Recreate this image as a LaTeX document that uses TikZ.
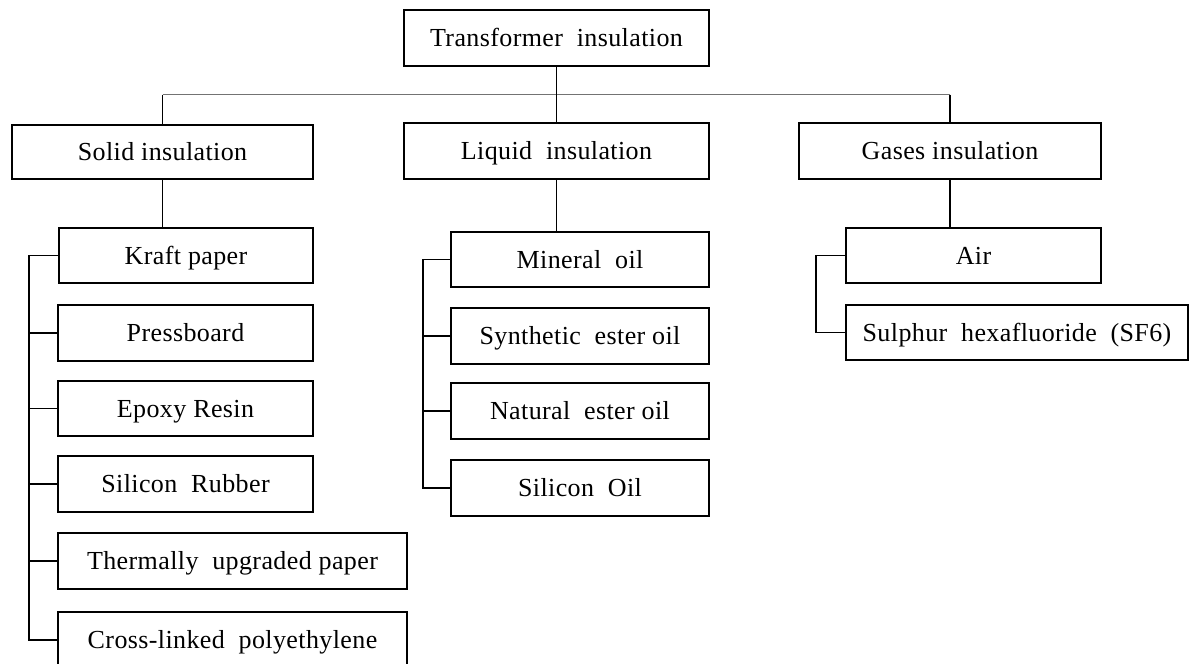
\documentclass[tikz,border=0pt]{standalone}
\usepackage{fontspec}
\setmainfont{Liberation Serif}[LetterSpace=1.5]
\begin{document}
\begin{tikzpicture}[x=1pt,y=-1pt,
  box/.style={draw=black,line width=1.3pt,fill=white,inner sep=0pt,anchor=center,
    text height=17pt,text depth=0pt,
    font=\fontsize{26}{30}\selectfont},
  conn/.style={draw=black,line width=1.4pt},
  busline/.style={draw=black!55,line width=1.6pt}]
\useasboundingbox (0,0) rectangle (1192,664);
% top level
\node[box,minimum width=305,minimum height=56] (top) at (556.5,38) {Transformer\ \ insulation};
\node[box,minimum width=301,minimum height=54] (solid) at (162.5,152) {Solid insulation};
\node[box,minimum width=305,minimum height=56] (liquid) at (556.5,151) {Liquid\ \ insulation};
\node[box,minimum width=302,minimum height=56] (gases) at (950,151) {Gases insulation};
% solid children
\node[box,minimum width=254,minimum height=55] (kraft) at (186,255.5) {Kraft paper};
\node[box,minimum width=255,minimum height=56] (press) at (185.5,333) {Pressboard};
\node[box,minimum width=255,minimum height=55] (epoxy) at (185.5,408.5) {Epoxy Resin};
\node[box,minimum width=255,minimum height=56] (rubber) at (185.5,484) {Silicon\ \ Rubber};
\node[box,minimum width=349,minimum height=56] (therm) at (232.5,561) {Thermally\ \ upgraded paper};
\node[box,minimum width=349,minimum height=56] (cross) at (232.5,640) {Cross-linked\ \ polyethylene};
% liquid children
\node[box,minimum width=258,minimum height=55] (mineral) at (580,259.5) {Mineral\ \ oil};
\node[box,minimum width=258,minimum height=56] (synth) at (580,336) {Synthetic\ \ ester oil};
\node[box,minimum width=258,minimum height=56] (natural) at (580,411) {Natural\ \ ester oil};
\node[box,minimum width=258,minimum height=56] (siloil) at (580,488) {Silicon\ \ Oil};
% gases children
\node[box,minimum width=255,minimum height=55] (air) at (973.5,255.5) {Air};
\node[box,minimum width=342,minimum height=55] (sf6) at (1017,332.5) {Sulphur\ \ hexafluoride\ \ (SF6)};
% spine coordinates
\coordinate (bus) at (0,94.5);
\coordinate (sp1) at (29,0);
\coordinate (sp2) at (423,0);
\coordinate (sp3) at (816,0);
% top connectors
\draw[busline] (solid.north |- bus) -- (gases.north |- bus);
\draw[conn] (top.south) -- (liquid.north);
\draw[conn] (solid.north |- bus) -- (solid.north);
\draw[conn] (gases.north |- bus) -- (gases.north);
% to first children
\draw[conn] (solid.south) -- (solid.south |- kraft.north);
\draw[conn] (liquid.south) -- (liquid.south |- mineral.north);
\draw[conn] (gases.south) -- (gases.south |- air.north);
% solid spine
\draw[conn] (kraft.west) -- (kraft.west -| sp1) -- (cross.west -| sp1) -- (cross.west);
\foreach \n in {press,epoxy,rubber,therm} \draw[conn] (\n.west) -- (\n.west -| sp1);
% liquid spine
\draw[conn] (mineral.west) -- (mineral.west -| sp2) -- (siloil.west -| sp2) -- (siloil.west);
\foreach \n in {synth,natural} \draw[conn] (\n.west) -- (\n.west -| sp2);
% gases spine
\draw[conn] (air.west) -- (air.west -| sp3) -- (sf6.west -| sp3) -- (sf6.west);
\end{tikzpicture}
\end{document}
